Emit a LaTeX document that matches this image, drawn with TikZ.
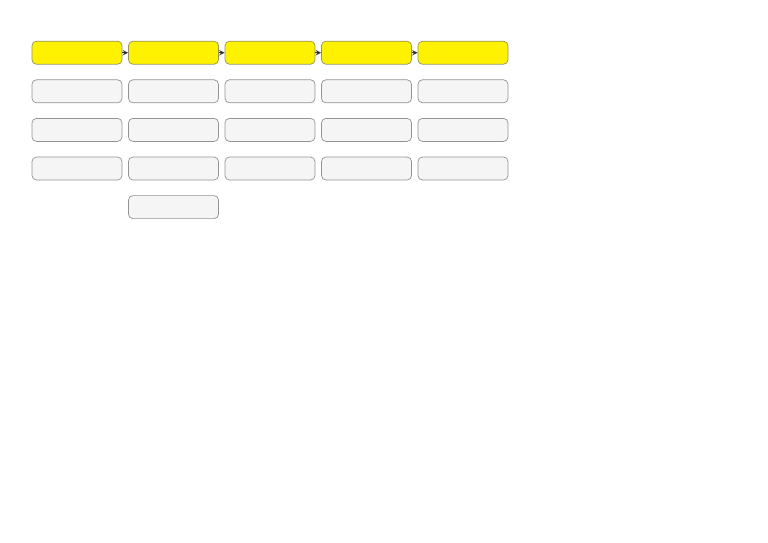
\documentclass[tikz,border=0pt]{standalone}
\usepackage{tikz}

\tikzset{
  stage/.style={draw=black!45!yellow!70!gray, fill=yellow, rounded corners=2.5pt, minimum width=1.8cm, minimum height=0.46cm, inner sep=0pt},
  task/.style={draw=gray!85, fill=gray!8, rounded corners=2.5pt, minimum width=1.8cm, minimum height=0.46cm, inner sep=0pt}
}

\begin{document}
\begin{tikzpicture}[x=0.02cm,y=-0.02cm]
 \useasboundingbox (0,0) rectangle (768,542);

 \foreach \i in {1,...,5}
 {
   \node[stage] (s\i) at ({77+96.5*(\i-1)},52.7) {};
   \foreach \j in {1,2,3}
     \node[task] (t\i\j) at ({77+96.5*(\i-1)},{52.7+38.6*\j}) {};
 }
 \node[task] (t24) at (173.5,207.1) {};

 \foreach \i/\k in {1/2,2/3,3/4,4/5}
   \draw[-stealth, thin, black!80] (s\i) -- (s\k);
\end{tikzpicture}
\end{document}
